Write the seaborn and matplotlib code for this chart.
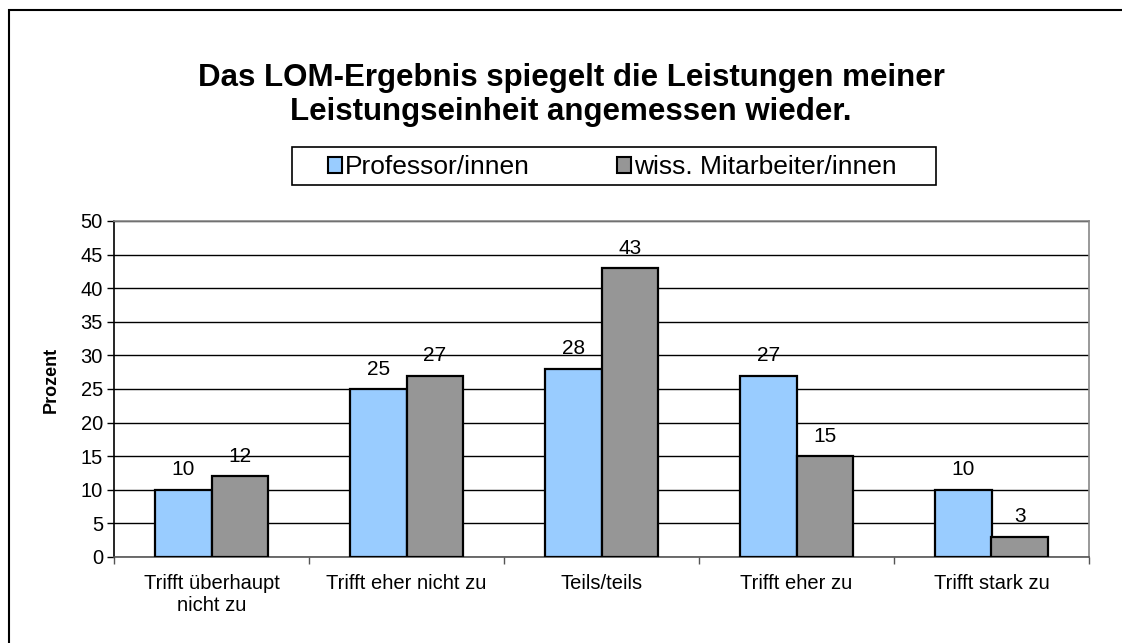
import pandas as pd
import matplotlib.pyplot as plt
import seaborn as sns
from matplotlib.patches import Rectangle

# Daten
kategorien = ['Trifft überhaupt\nnicht zu', 'Trifft eher nicht zu', 'Teils/teils',
              'Trifft eher zu', 'Trifft stark zu']
gruppen = ['Professor/innen', 'wiss. Mitarbeiter/innen']
professoren = [10, 25, 28, 27, 10]
mitarbeiter = [12, 27, 43, 15, 3]
farben = ['#99CCFF', '#969696']

df = pd.DataFrame({
    'kategorie': kategorien * 2,
    'gruppe': [gruppen[0]] * len(kategorien) + [gruppen[1]] * len(kategorien),
    'prozent': professoren + mitarbeiter,
})

sns.set_style("white")
plt.rcParams['font.family'] = ['Liberation Sans', 'DejaVu Sans']
plt.rcParams['text.color'] = 'black'
plt.rcParams['xtick.color'] = 'black'
plt.rcParams['ytick.color'] = 'black'
plt.rcParams['axes.labelcolor'] = 'black'

W, H = 1122, 643
fig = plt.figure(figsize=(W / 100, H / 100), dpi=100)
ax = fig.add_axes([114 / W, 1 - 557 / H, 975 / W, 336 / H])

sns.barplot(data=df, x='kategorie', y='prozent', hue='gruppe', order=kategorien,
            hue_order=gruppen, palette=farben, width=0.58, gap=0,
            edgecolor='black', linewidth=1.6, saturation=1, ax=ax, zorder=3)

for c in ax.containers:
    ax.bar_label(c, fmt='%d', padding=7.5, fontsize=15)

# Achsen
ax.set_ylim(0, 50)
ax.set_xlim(-0.5, len(kategorien) - 0.5)
ax.set_yticks(range(0, 51, 5))
ax.yaxis.grid(True, color='black', linewidth=1, zorder=0)
ax.set_axisbelow(True)
ax.tick_params(axis='y', length=5, width=1, color='black', labelsize=14.5, pad=3, left=True)
ax.tick_params(axis='x', which='major', length=0, labelsize=14.5, pad=12)
ax.set_xticks([i - 0.5 for i in range(len(kategorien) + 1)], minor=True)
ax.tick_params(axis='x', which='minor', length=5, width=1, color='#555555', bottom=True)
ax.set_xlabel('')
ax.set_ylabel('Prozent', fontsize=13, fontweight='bold')
ax.yaxis.set_label_coords((60 - 114) / 975, (557 - 380) / 336)

ax.spines['left'].set_color('black')
ax.spines['bottom'].set_color('#555555')
ax.spines['top'].set_color('#888888')
ax.spines['right'].set_color('#888888')
for s in ax.spines.values():
    s.set_linewidth(1.2)

# Legende (Rahmen separat gezeichnet)
handles, labels = ax.get_legend_handles_labels()
ax.legend_.remove()
leg = fig.legend(handles, labels, loc='center', bbox_to_anchor=(612 / W, 1 - 167 / H), ncol=2,
                 fontsize=19, frameon=False,
                 handlelength=0.55, handleheight=0.55, handletextpad=0.1,
                 columnspacing=3.3, borderpad=0, borderaxespad=0)
for h in leg.legend_handles:
    h.set_edgecolor('black')
    h.set_linewidth(1.5)
fig.add_artist(Rectangle((292 / W, 1 - 185 / H), (936 - 292) / W, 38 / H,
                         transform=fig.transFigure, fill=False, edgecolor='black',
                         linewidth=1.2))

# Titel
fig.text(0.509, 1 - 95 / H,
         'Das LOM-Ergebnis spiegelt die Leistungen meiner\nLeistungseinheit angemessen wieder.',
         ha='center', va='center', fontsize=22.5, fontweight='bold', linespacing=1.2)

# Rahmen um das Diagramm
fig.add_artist(Rectangle((9 / W, -0.1), 1.2, 1.1 - 10 / H, transform=fig.transFigure,
                         fill=False, edgecolor='black', linewidth=1.5, clip_on=False))

fig.savefig('out.png', dpi=100)
